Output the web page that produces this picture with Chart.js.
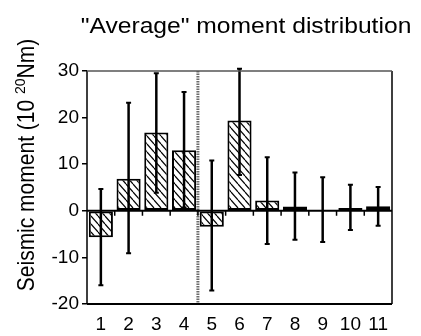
<!DOCTYPE html>
<html>
<head>
<meta charset="utf-8">
<script src="https://cdn.jsdelivr.net/npm/chart.js@4/dist/chart.umd.min.js"></script>
<style>
  html, body { margin: 0; padding: 0; background: #fff; }
  canvas { display: block; }
</style>
</head>
<body>
<canvas id="c" width="421" height="336"></canvas>
<script>
// Source regions 1..11 and their average seismic moment (10^20 Nm)
const categories = ['1', '2', '3', '4', '5', '6', '7', '8', '9', '10', '11'];
const moment     = [-5.7, 6.9, 16.8, 13.0, -3.4, 19.4, 2.2, 0.9, 0.0, 0.6, 1.0];
// Upper and lower ends of the error bars
const errHigh    = [4.7, 23.2, 29.5, 25.5, 10.8, 30.5, 11.5, 8.2, 7.2, 5.6, 5.1];
const errLow     = [-16.0, -9.1, 3.9, 0.7, -17.1, 7.7, -7.1, -6.2, -6.7, -4.1, -3.2];
// Y axis range and tick step
const yMin = -20, yMax = 30, yStep = 10;
// The dashed separator sits between these two categories
const splitAfter = '4', splitBefore = '5';

const FONT = '"Liberation Sans", Arial, Helvetica, sans-serif';

function hatchPattern() {
  const w = 7, h = 8;
  const c = document.createElement('canvas');
  c.width = w; c.height = h;
  const g = c.getContext('2d');
  g.fillStyle = '#fff';
  g.fillRect(0, 0, w, h);
  g.strokeStyle = '#000';
  g.lineWidth = 1.2;
  for (const dx of [-w, 0, w]) {
    g.beginPath();
    g.moveTo(dx, 0);
    g.lineTo(dx + w, h);
    g.stroke();
  }
  return g.createPattern(c, 'repeat');
}

// Frame, zero line, separator and error bars
const decorations = {
  id: 'decorations',
  afterDatasetsDraw(chart) {
    const { ctx, chartArea: a, scales: { x, y } } = chart;
    const y0 = y.getPixelForValue(0);
    ctx.save();

    // dotted separator
    const xs = (x.getPixelForValue(categories.indexOf(splitAfter)) +
                x.getPixelForValue(categories.indexOf(splitBefore))) / 2;
    ctx.strokeStyle = '#6a6a6a';
    ctx.lineWidth = 3;
    ctx.setLineDash([1.5, 1]);
    ctx.beginPath();
    ctx.moveTo(xs, a.top);
    ctx.lineTo(xs, a.bottom);
    ctx.stroke();
    ctx.setLineDash([]);

    // error bars
    ctx.strokeStyle = '#000';
    categories.forEach((c, i) => {
      const px = x.getPixelForValue(i);
      const hi = y.getPixelForValue(errHigh[i]);
      const lo = y.getPixelForValue(errLow[i]);
      ctx.lineWidth = 2.5;
      ctx.beginPath();
      ctx.moveTo(px, hi); ctx.lineTo(px, lo);
      ctx.stroke();
      ctx.lineWidth = 2;
      ctx.beginPath();
      ctx.moveTo(px - 2.5, hi); ctx.lineTo(px + 2.5, hi);
      ctx.moveTo(px - 2.5, lo); ctx.lineTo(px + 2.5, lo);
      ctx.stroke();
    });

    // zero line with category boundary ticks
    ctx.lineWidth = 2;
    ctx.beginPath();
    ctx.moveTo(a.left, y0); ctx.lineTo(a.right, y0);
    ctx.stroke();
    ctx.lineWidth = 1.5;
    ctx.beginPath();
    for (let i = 1; i < categories.length; i++) {
      const bx = (x.getPixelForValue(i - 1) + x.getPixelForValue(i)) / 2;
      ctx.moveTo(bx, y0); ctx.lineTo(bx, y0 + 5);
    }
    ctx.stroke();

    // frame
    ctx.strokeStyle = '#000';
    ctx.lineWidth = 1.5;
    ctx.beginPath();
    ctx.moveTo(a.left, a.top); ctx.lineTo(a.left, a.bottom);
    ctx.moveTo(a.right, a.top); ctx.lineTo(a.right, a.bottom);
    ctx.stroke();
    ctx.lineWidth = 2;
    ctx.beginPath();
    ctx.moveTo(a.left, a.bottom); ctx.lineTo(a.right, a.bottom);
    ctx.stroke();
    ctx.strokeStyle = '#555';
    ctx.lineWidth = 1.5;
    ctx.beginPath();
    ctx.moveTo(a.left, a.top); ctx.lineTo(a.right, a.top);
    ctx.stroke();
    ctx.restore();
  }
};

// Title and rotated y-axis label with superscript exponent
const texts = {
  id: 'texts',
  afterDraw(chart) {
    const { ctx } = chart;
    ctx.save();
    ctx.fillStyle = '#000';
    ctx.textBaseline = 'alphabetic';

    // title
    ctx.font = '22px ' + FONT;
    ctx.textAlign = 'center';
    ctx.save();
    ctx.translate(246, 33);
    ctx.scale(1.12, 1);
    ctx.fillText('"Average" moment distribution', 0, 0);
    ctx.restore();

    // y label
    const parts = [
      { t: 'Seismic moment (10 ', f: '21px ' + FONT, dy: 0 },
      { t: '20', f: '14px ' + FONT, dy: -8 },
      { t: 'Nm)', f: '21px ' + FONT, dy: 0 }
    ];
    let total = 0;
    parts.forEach(p => { ctx.font = p.f; p.w = ctx.measureText(p.t).width; total += p.w; });
    ctx.translate(34, 165);
    ctx.rotate(-Math.PI / 2);
    ctx.scale(1, 1.1);
    ctx.textAlign = 'left';
    let cx = -total / 2;
    parts.forEach(p => {
      ctx.font = p.f;
      ctx.fillText(p.t, cx, p.dy);
      cx += p.w;
    });
    ctx.restore();
  }
};

new Chart(document.getElementById('c'), {
  type: 'bar',
  data: {
    labels: categories,
    datasets: [{
      data: moment,
      backgroundColor: hatchPattern(),
      borderColor: '#000',
      borderWidth: 2,
      borderSkipped: false,
      barPercentage: 0.87,
      categoryPercentage: 1.0
    }]
  },
  options: {
    responsive: false,
    devicePixelRatio: 1,
    animation: false,
    layout: { padding: { left: 0, top: 71, right: 29, bottom: 0 } },
    plugins: { legend: { display: false }, tooltip: { enabled: false }, title: { display: false } },
    scales: {
      x: {
        offset: true,
        grid: { display: false, drawTicks: false },
        border: { display: false },
        ticks: { color: '#000', font: { family: FONT, size: 19 }, padding: 9, maxRotation: 0, autoSkip: false },
        afterFit: s => { s.height = 32; }
      },
      y: {
        min: yMin, max: yMax,
        grid: { drawOnChartArea: false, drawTicks: true, tickLength: 5, color: '#000', lineWidth: 1.5 },
        border: { display: false },
        ticks: { stepSize: yStep, color: '#000', font: { family: FONT, size: 19 }, padding: 3 },
        afterFit: s => { s.width = 87; }
      }
    }
  },
  plugins: [decorations, texts]
});
</script>
</body>
</html>
